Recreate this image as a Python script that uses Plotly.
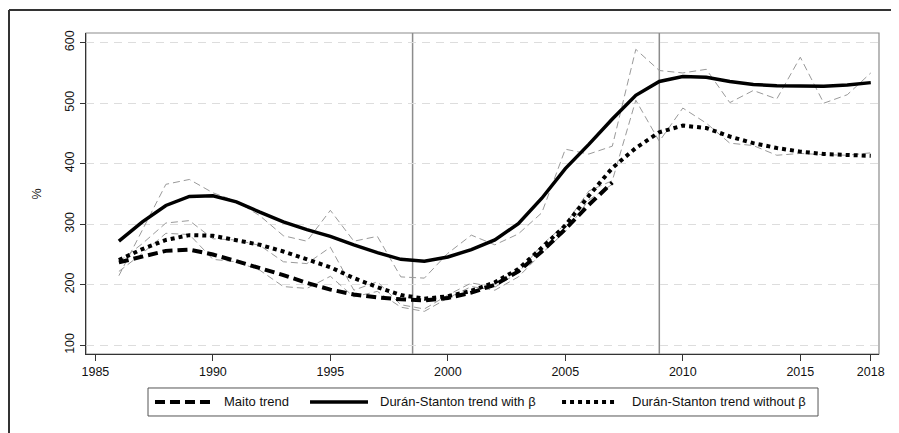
import plotly.graph_objects as go

years = list(range(1986, 2019))
maito_years = list(range(1986, 2008))

# Trend series (%)
ds_with_beta = [272, 304, 331, 346, 347, 337, 320, 304, 291, 280, 266, 253, 242, 239,
                246, 258, 274, 301, 343, 392, 432, 474, 513, 536, 544, 543, 536, 531,
                529, 529, 528, 530, 534]
ds_without_beta = [241, 259, 274, 282, 281, 274, 266, 255, 242, 229, 211, 196, 183, 177,
                   181, 190, 204, 226, 261, 298, 347, 393, 426, 452, 463, 459, 445, 434,
                   426, 420, 416, 414, 413]
maito = [237, 247, 256, 258, 250, 239, 228, 216, 203, 192, 184, 179, 176, 174,
         178, 187, 200, 222, 255, 292, 332, 369]

# Raw (unsmoothed) series, thin gray dashed
raw_with_beta = [215, 290, 366, 374, 352, 338, 314, 281, 272, 323, 272, 280, 213, 211,
                 252, 282, 266, 284, 319, 424, 416, 429, 589, 554, 550, 556, 501, 521,
                 507, 576, 500, 514, 550]
raw_without_beta = [238, 268, 302, 306, 276, 274, 265, 238, 235, 262, 191, 205, 167, 160,
                    183, 203, 196, 220, 266, 300, 355, 372, 505, 437, 492, 467, 434, 430,
                    414, 417, 415, 414, 418]
raw_maito = [222, 252, 285, 283, 242, 238, 224, 197, 194, 214, 180, 189, 163, 156,
             178, 197, 191, 213, 252, 288, 340, 366]

series_names = ["Maito trend", "Durán-Stanton trend with β", "Durán-Stanton trend without β"]
x_ticks = [1985, 1990, 1995, 2000, 2005, 2010, 2015, 2018]
y_ticks = [100, 200, 300, 400, 500, 600]
breaks = [1998.5, 2009]

GRAY = "#9a9a9a"
trend_styles = [dict(color="black", width=4, dash="10px,5px"),
                dict(color="black", width=3.5),
                dict(color="black", width=4, dash="4px,4px")]

fig = go.Figure()
for xs, ys in [(years, raw_with_beta), (years, raw_without_beta), (maito_years, raw_maito)]:
    fig.add_trace(go.Scatter(x=xs, y=ys, mode="lines", showlegend=False, hoverinfo="skip",
                             line=dict(color=GRAY, width=1, dash="7px,4px")))

for (xs, ys), name, st in zip([(maito_years, maito), (years, ds_with_beta),
                               (years, ds_without_beta)], series_names, trend_styles):
    fig.add_trace(go.Scatter(x=xs, y=ys, mode="lines", name=name, showlegend=False,
                             line=st))

shapes = []
for b in breaks:
    shapes.append(dict(type="line", xref="x", yref="paper", x0=b, x1=b, y0=0, y1=1,
                       line=dict(color="#8c8c8c", width=1.5), layer="below"))
# plot frame
shapes.append(dict(type="rect", xref="paper", yref="paper", x0=0, x1=1, y0=0, y1=1,
                   line=dict(color="#8c8c8c", width=1.2), layer="below"))
# outer figure frame (top and left)
shapes.append(dict(type="line", xref="paper", yref="paper", x0=-0.0971, x1=1.06,
                   y0=1.0717, y1=1.0717, line=dict(color="#333", width=2)))
shapes.append(dict(type="line", xref="paper", yref="paper", x0=-0.0971, x1=-0.0971,
                   y0=1.0717, y1=-0.3, line=dict(color="#333", width=2)))

# manual legend (box, samples, labels)
leg_y = -0.1495
shapes.append(dict(type="rect", xref="paper", yref="paper", x0=0.0782, x1=0.9231,
                   y0=-0.1931, y1=-0.1059, line=dict(color="#555", width=1)))
sample_x = [(0.0870, 0.1601), (0.2825, 0.3556), (0.6003, 0.6709)]
text_x = [0.1715, 0.3682, 0.6860]
annotations = []
for (sx0, sx1), tx, name, st in zip(sample_x, text_x, series_names, trend_styles):
    shapes.append(dict(type="line", xref="paper", yref="paper", x0=sx0, x1=sx1,
                       y0=leg_y, y1=leg_y, line=st))
    annotations.append(dict(text=name, xref="paper", yref="paper", x=tx, y=leg_y,
                            xanchor="left", yanchor="middle", showarrow=False,
                            font=dict(size=13, color="#111")))
annotations.append(dict(text="%", xref="paper", yref="paper", x=-0.0618, y=0.5,
                        xanchor="center", yanchor="middle", textangle=-90,
                        showarrow=False, font=dict(size=12.5, color="#111")))

font = "Liberation Sans, Arial, sans-serif"
fig.update_layout(
    width=891, height=425,
    margin=dict(l=78, r=20, t=25, b=79),
    paper_bgcolor="white", plot_bgcolor="white",
    font=dict(family=font, size=12.5, color="#111"),
    shapes=shapes,
    annotations=annotations,
    showlegend=False,
)
fig.update_xaxes(range=[1984.6, 2018.35], tickvals=x_ticks, ticks="outside", ticklen=6,
                 tickcolor="#333", showline=True, linecolor="#333", linewidth=1.3,
                 showgrid=False, zeroline=False, tickfont=dict(size=12.5))
fig.update_yaxes(range=[85.6, 616], tickvals=y_ticks, ticks="outside", ticklen=5,
                 tickcolor="#333", showline=True, linecolor="#333", linewidth=1.3,
                 showgrid=True, gridcolor="#dddddd", gridwidth=1, griddash="8px,6px",
                 zeroline=False, tickangle=-90, ticklabelstandoff=1,
                 tickfont=dict(size=12.5))

fig.write_html("out.html")
